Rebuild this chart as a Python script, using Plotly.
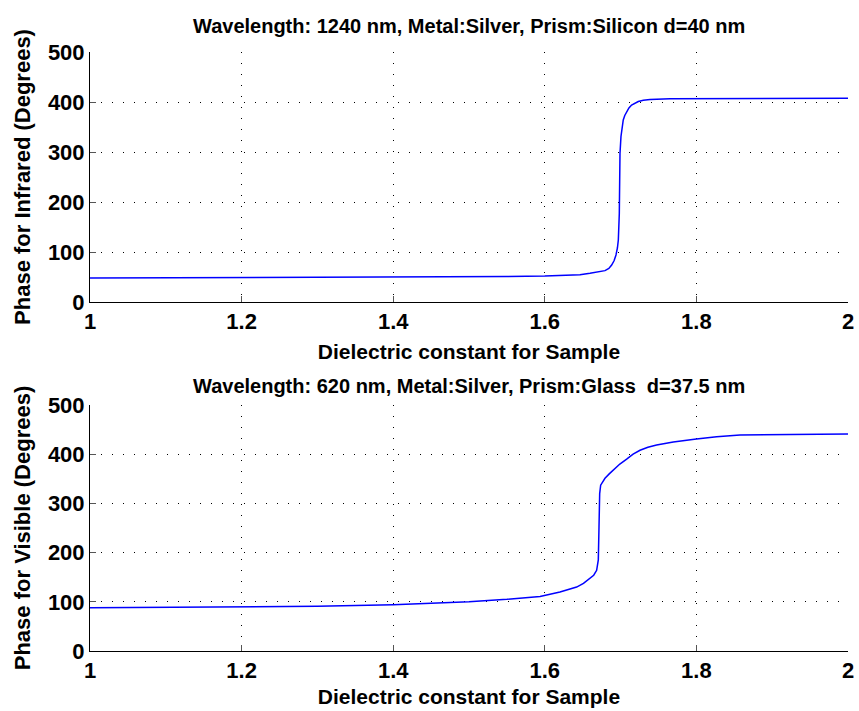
import plotly.graph_objects as go

# Infrared (top) data
x_ir = [1.0, 1.1, 1.2, 1.3, 1.4, 1.5, 1.55, 1.6, 1.62, 1.6464, 1.6596, 1.67, 1.6794, 1.6845,
        1.6882, 1.6915, 1.6939, 1.6958, 1.697, 1.6983, 1.6988, 1.6992, 1.7005, 1.702,
        1.7035, 1.7055, 1.708, 1.711, 1.7145, 1.719, 1.7233, 1.73,
        1.7388, 1.7652, 1.8, 1.85, 1.9, 1.95, 2.0]
y_ir = [48, 48.3, 48.6, 49, 49.5, 50.3, 51, 52, 52.8, 54.5, 57.3, 59.8, 62.7, 67,
        74, 83, 94, 108, 124, 177, 244, 297, 331, 350,
        364, 373, 381, 388, 394, 398, 401, 403.5,
        405, 406.3, 406.6, 407, 407.2, 407.4, 407.5]

# Visible (bottom) data
x_vis = [1.0, 1.1, 1.2, 1.3, 1.4, 1.45, 1.5, 1.55, 1.5937, 1.62, 1.632, 1.642, 1.651,
         1.6596, 1.6645, 1.6684, 1.6706, 1.6715, 1.6724, 1.6737, 1.6765, 1.6794, 1.685,
         1.6904, 1.699, 1.708, 1.7165, 1.7256, 1.736, 1.7475, 1.7695,
         1.8, 1.8267, 1.8575, 1.9, 1.95, 2.0]
y_vis = [88, 88.5, 89.5, 91, 94, 96.5, 100, 105, 111, 120, 125, 130, 137.5,
         147, 154, 164, 185, 252, 320, 337, 345, 351, 360,
         368, 380, 390, 400, 408, 414, 418.5, 425,
         431, 435.5, 439, 440, 440.5, 441]

x_ticks = [1, 1.2, 1.4, 1.6, 1.8, 2]
x_ticklabels = ["1", "1.2", "1.4", "1.6", "1.8", "2"]
y_ticks = [0, 100, 200, 300, 400, 500]

title_top = "Wavelength: 1240 nm, Metal:Silver, Prism:Silicon d=40 nm"
title_bot = "Wavelength: 620 nm, Metal:Silver, Prism:Glass  d=37.5 nm"
xlabel = "Dielectric constant for Sample"
ylabel_top = "Phase for Infrared (Degrees)"
ylabel_bot = "Phase for Visible (Degrees)"

FONT = "Liberation Sans, Arial, sans-serif"

fig = go.Figure()
fig.add_trace(go.Scatter(x=x_ir, y=y_ir, mode="lines", line=dict(color="#0000ff", width=1.5),
                         xaxis="x", yaxis="y", showlegend=False))
fig.add_trace(go.Scatter(x=x_vis, y=y_vis, mode="lines", line=dict(color="#0000ff", width=1.5),
                         xaxis="x2", yaxis="y2", showlegend=False))

H = 711
mt, mb = 52, 60
ph = H - mt - mb

def pf(py):
    return (H - mb - py) / ph

tickf = dict(family=FONT, size=22, color="#000", weight="bold")
xlabf = dict(family=FONT, size=21, color="#000", weight="bold")
ylabf = dict(family=FONT, size=22, color="#000", weight="bold")
titf = dict(family=FONT, size=20, color="#000", weight="bold")

common_x = dict(range=[1, 2], tickvals=x_ticks, ticktext=x_ticklabels,
                showgrid=True, gridcolor="#000000", griddash="1px,10px", gridwidth=1,
                showline=True, linecolor="#000000", linewidth=1,
                ticks="inside", ticklen=6, tickcolor="#555555", automargin=False,
                tickfont=tickf, zeroline=False, mirror=False)
common_y = dict(range=[0, 500], tickvals=y_ticks,
                showgrid=True, gridcolor="#000000", griddash="1px,10px", gridwidth=1,
                showline=True, linecolor="#000000", linewidth=1,
                ticks="inside", ticklen=6, tickcolor="#555555", automargin=False,
                tickfont=tickf, zeroline=False, mirror=False)

fig.update_layout(
    width=859, height=711,
    margin=dict(l=90, r=11, t=mt, b=mb, autoexpand=False),
    paper_bgcolor="white", plot_bgcolor="white",
    xaxis=dict(domain=[0, 1], anchor="y", **common_x,
               title=dict(text=xlabel, standoff=10, font=xlabf)),
    yaxis=dict(domain=[pf(302), 1], anchor="x", **common_y,
               title=dict(text=ylabel_top, standoff=11, font=ylabf)),
    xaxis2=dict(domain=[0, 1], anchor="y2", **common_x,
                title=dict(text=xlabel, standoff=6, font=xlabf)),
    yaxis2=dict(domain=[0, pf(405)], anchor="x2", **common_y,
                title=dict(text=ylabel_bot, standoff=11, font=ylabf)),
    annotations=[
        dict(text=title_top, x=0.5, y=1, xref="paper", yref="paper", xanchor="center", yanchor="bottom",
             yshift=13, showarrow=False, font=titf),
        dict(text=title_bot, x=0.5, y=pf(405), xref="paper", yref="paper", xanchor="center", yanchor="bottom",
             yshift=6, showarrow=False, font=titf),
    ],
)

fig.write_html("out.html")
